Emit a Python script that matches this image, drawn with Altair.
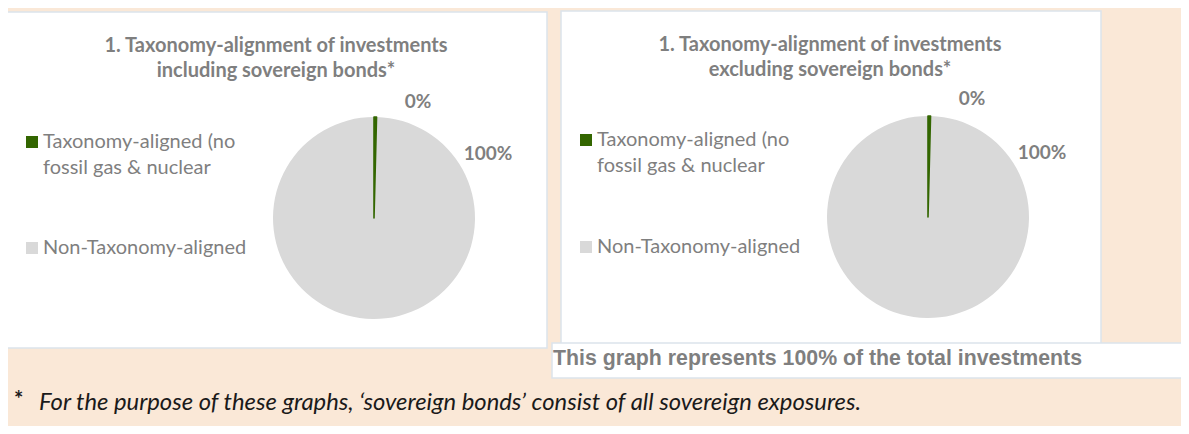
import altair as alt
import pandas as pd

# ---------------- data ----------------
categories = ["Taxonomy-aligned (no fossil gas & nuclear", "Non-Taxonomy-aligned"]
legend_labels = ["Taxonomy-aligned (no\nfossil gas & nuclear", "Non-Taxonomy-aligned"]
values_incl = [0.4, 99.6]
values_excl = [0.4, 99.6]
slice_labels = ["0%", "100%"]
colors = ["#336600", "#D9D9D9"]
panel_titles = [
    "1. Taxonomy-alignment of investments\nincluding sovereign bonds*",
    "1. Taxonomy-alignment of investments\nexcluding sovereign bonds*",
]
note_text = "This graph represents 100% of the total investments"
footnote_mark = "*"
footnote_text = "For the purpose of these graphs, \u2018sovereign bonds\u2019 consist of  all sovereign exposures."

# ---------------- layout (page pixels) ----------------
OFF = 8
W, H = 1189 - 2 * OFF, 434 - 2 * OFF
BG = "#FAE8D7"
BORDER = "#DCE3EC"
GRAY = "#7F7F7F"
FONT = "Lato"


def px(v):
    return v - OFF


color_scale = alt.Scale(domain=categories, range=colors)
one = pd.DataFrame({"k": [0]})


def box(x1, y1, x2, y2):
    return alt.Chart(one).mark_rect(fill="white", stroke=BORDER, strokeWidth=1.5).encode(
        x=alt.value(px(x1)), x2=alt.value(px(x2)), y=alt.value(px(y1)), y2=alt.value(px(y2))
    )


def pie(values, cx, cy, r):
    df = pd.DataFrame({"category": categories, "value": values, "order": list(range(len(categories)))})
    base = alt.Chart(df).encode(
        theta=alt.Theta("value:Q", stack=True),
        order=alt.Order("order:Q"),
        x=alt.value(px(cx)),
        y=alt.value(px(cy)),
    )
    fill = base.mark_arc(radius=r).encode(
        color=alt.Color("category:N", scale=color_scale, legend=None),
    )
    outline = base.mark_arc(radius=r, fillOpacity=0, strokeWidth=1.6, strokeJoin="round").encode(
        stroke=alt.Stroke("category:N", scale=color_scale, legend=None),
        strokeOpacity=alt.StrokeOpacity("category:N", scale=alt.Scale(domain=categories, range=[1, 0]),
                                        legend=None),
    )
    return [fill, outline]


def text(s, x, y, size, align="center", weight="normal", style="normal", color=GRAY, font=FONT, lh=None):
    kw = {}
    if lh is not None:
        kw["lineHeight"] = lh
    return alt.Chart(pd.DataFrame({"t": [s]})).mark_text(
        align=align, baseline="middle", fontSize=size, fontWeight=weight, fontStyle=style,
        color=color, font=font, lineBreak="\n", **kw
    ).encode(text="t:N", x=alt.value(px(x)), y=alt.value(px(y)))


def legend_square(cat, x, y):
    return alt.Chart(pd.DataFrame({"category": [cat]})).mark_square(size=144, opacity=1).encode(
        color=alt.Color("category:N", scale=color_scale, legend=None),
        x=alt.value(px(x)), y=alt.value(px(y)),
    )


panels = [
    dict(box=(6, 12, 547, 348), title=(276, 46), pie=(374, 218), vals=values_incl,
         lab=[(418, 102), (488, 154)], leg_sq=32, leg_tx=43, leg_y=[142, 248]),
    dict(box=(561, 11, 1101, 347), title=(830, 45), pie=(928, 217), vals=values_excl,
         lab=[(972, 99), (1042, 153)], leg_sq=586, leg_tx=597, leg_y=[140, 247]),
]

layers = []
for i, p in enumerate(panels):
    layers.append(box(*p["box"]))
for i, p in enumerate(panels):
    layers.append(text(panel_titles[i], p["title"][0], p["title"][1], 20, weight="bold", lh=25))
    layers.extend(pie(p["vals"], p["pie"][0], p["pie"][1], 101))
    for j, lab in enumerate(slice_labels):
        layers.append(text(lab, p["lab"][j][0], p["lab"][j][1], 19, weight="bold"))
    for j, cat in enumerate(categories):
        layers.append(legend_square(cat, p["leg_sq"], p["leg_y"][j]))
        layers.append(text(legend_labels[j], p["leg_tx"], p["leg_y"][j], 20, align="left", lh=26))

# note box
layers.append(box(552, 343, 1187, 378))
layers.append(text(note_text, 553, 359, 21.3, align="left", weight="bold", font="Liberation Sans"))

# footnote
layers.append(text(footnote_mark, 14, 400, 22, align="left", weight="bold", color="#1A1A1A"))
layers.append(text(footnote_text, 39, 403, 23.8, align="left", style="italic", color="#1A1A1A"))

chart = alt.layer(*layers).properties(
    width=W, height=H, background=BG, padding=0, autosize=alt.AutoSizeParams(type="none")
).configure_view(stroke=None)

chart.save("out.html", embed_options={"renderer": "svg", "actions": False})
